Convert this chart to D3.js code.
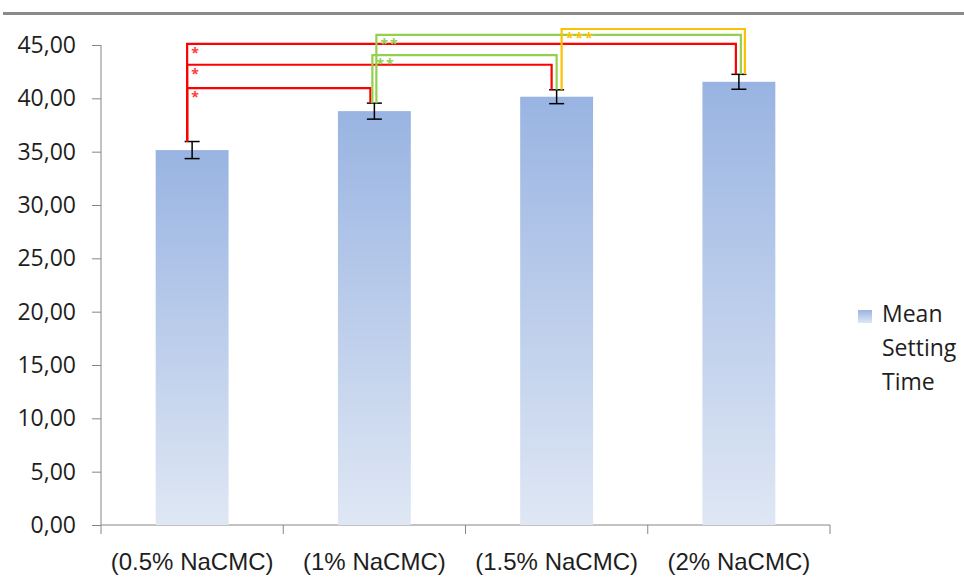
<!DOCTYPE html>
<html>
<head>
<meta charset="utf-8">
<script src="https://cdn.jsdelivr.net/npm/d3@7"></script>
<style>
  body { margin: 0; background: #fff; }
  svg { display: block; font-family: "Open Sans", "Noto Sans", sans-serif; }
</style>
</head>
<body>
<div id="vis"></div>
<script>
var width = 964;
var height = 577;

// data
const categories = ["(0.5% NaCMC)", "(1% NaCMC)", "(1.5% NaCMC)", "(2% NaCMC)"];
const means = [35.15, 38.8, 40.15, 41.55];
const errors = [0.8, 0.75, 0.65, 0.7];
const yTicks = [0, 5, 10, 15, 20, 25, 30, 35, 40, 45];
const seriesName = ["Mean", "Setting", "Time"];

// significance brackets: [from bar, to bar], level on the value axis, label
const sigPairs = [[0, 1], [0, 2], [0, 3], [1, 2], [1, 3], [2, 3]];
const sigLevels = [40.95, 43.15, 45.1, 44.05, 45.95, 46.5];
const sigLabels = ["*", "*", "*", "**", "**", "***"];

//styles
const SIG_COLOR = ["#ff0000", "#92d050", "#ffc000"];
const SIG_STAR = ["#ff3b3b", "#92d050", "#ffc000"];
// x offsets (px) of bracket legs from the bar centre, start / end
const SIG_DX = [[-5, -4], [-5, -5], [-5, -3], [-2, 0], [2, 2], [5, 6]];

var chart = d3.select("#vis").append("svg")
  .attr("width", width)
  .attr("height", height);

var defs = chart.append("defs");
var grad = defs.append("linearGradient")
  .attr("id", "barGrad")
  .attr("x1", 0).attr("y1", 0).attr("x2", 0).attr("y2", 1);
grad.append("stop").attr("offset", "0%").attr("stop-color", "#99b4e2");
grad.append("stop").attr("offset", "100%").attr("stop-color", "#dfe7f4");

// grey rule at the top
chart.append("line")
  .attr("x1", 3).attr("x2", width)
  .attr("y1", 13.5).attr("y2", 13.5)
  .attr("stroke", "#8a8a8a")
  .attr("stroke-width", 3);

var xScale = d3.scaleBand().domain(categories).range([101, 830]);
var yScale = d3.scaleLinear().domain([0, 45]).range([525, 45]);
var barW = xScale.bandwidth() / 2.5;
function cx(i) { return xScale(categories[i]) + xScale.bandwidth() / 2; }

// y axis
var yAxis = chart.append("g")
  .attr("transform", "translate(101,0)")
  .call(d3.axisLeft(yScale).tickValues(yTicks).tickSize(9).tickPadding(16)
    .tickFormat(function (d) { return d3.format(".2f")(d).replace(".", ","); }));
yAxis.selectAll("line, path").attr("stroke", "#868686");
yAxis.select(".domain").attr("d", "M0,45V525");
yAxis.selectAll("text")
  .attr("fill", "#1e1e1e")
  .style("font-size", "23px")
  .style("font-family", "'Open Sans', sans-serif");

// x axis
var xAxis = chart.append("g")
  .attr("transform", "translate(0,525)")
  .call(d3.axisBottom(xScale).tickSize(0).tickPadding(0));
xAxis.select(".domain").attr("stroke", "#868686").attr("d", "M101,0H830");
xAxis.selectAll(".tick").remove();
var bounds = [0, 1, 2, 3, 4].map(function (i) { return 101 + i * xScale.step(); });
xAxis.selectAll(".sep").data(bounds).enter().append("line")
  .attr("x1", function (d) { return d; }).attr("x2", function (d) { return d; })
  .attr("y1", 0).attr("y2", 9)
  .attr("stroke", "#868686");
xAxis.selectAll(".cat").data(categories).enter().append("text")
  .attr("x", function (d, i) { return cx(i); })
  .attr("y", 45)
  .attr("text-anchor", "middle")
  .attr("fill", "#1e1e1e")
  .style("font-size", "24px")
  .text(function (d) { return d; });

// bars
chart.selectAll(".bar").data(means).enter().append("rect")
  .attr("class", "bar")
  .attr("x", function (d, i) { return cx(i) - barW / 2; })
  .attr("y", function (d) { return yScale(d); })
  .attr("width", barW)
  .attr("height", function (d) { return yScale(0) - yScale(d); })
  .attr("fill", "url(#barGrad)");

// error bars
var eb = chart.selectAll(".err").data(means).enter().append("g").attr("class", "err")
  .attr("stroke", "#000").attr("stroke-width", 1.5);
eb.append("line")
  .attr("x1", function (d, i) { return cx(i); }).attr("x2", function (d, i) { return cx(i); })
  .attr("y1", function (d, i) { return yScale(d + errors[i]); })
  .attr("y2", function (d, i) { return yScale(d - errors[i]); });
[1, -1].forEach(function (s) {
  eb.append("line")
    .attr("x1", function (d, i) { return cx(i) - 7.5; }).attr("x2", function (d, i) { return cx(i) + 7.5; })
    .attr("y1", function (d, i) { return yScale(d + s * errors[i]); })
    .attr("y2", function (d, i) { return yScale(d + s * errors[i]); });
});

// significance brackets
sigPairs.forEach(function (p, k) {
  var a = p[0], b = p[1];
  var x1 = cx(a) + SIG_DX[k][0], x2 = cx(b) + SIG_DX[k][1];
  var yl = yScale(sigLevels[k]);
  var ya = yScale(means[a] + errors[a]), yb = yScale(means[b] + errors[b]);
  chart.append("path")
    .attr("d", "M" + x1 + "," + ya + "V" + yl + "H" + x2 + "V" + yb)
    .attr("fill", "none")
    .attr("stroke", SIG_COLOR[a])
    .attr("stroke-width", 2.2);
  chart.append("text")
    .attr("x", x1 + 4)
    .attr("y", yl + 14)
    .attr("fill", SIG_STAR[a])
    .attr("letter-spacing", 2)
    .style("font-size", "14px")
    .style("font-weight", "bold")
    .text(sigLabels[k]);
});

// legend
var lg = chart.append("g").attr("transform", "translate(858,310)");
lg.append("rect").attr("width", 14).attr("height", 13).attr("fill", "url(#barGrad)");
lg.selectAll("text").data(seriesName).enter().append("text")
  .attr("x", 24)
  .attr("y", function (d, i) { return 12 + i * 34; })
  .attr("fill", "#1e1e1e")
  .style("font-size", "23px")
  .text(function (d) { return d; });
</script>
</body>
</html>
